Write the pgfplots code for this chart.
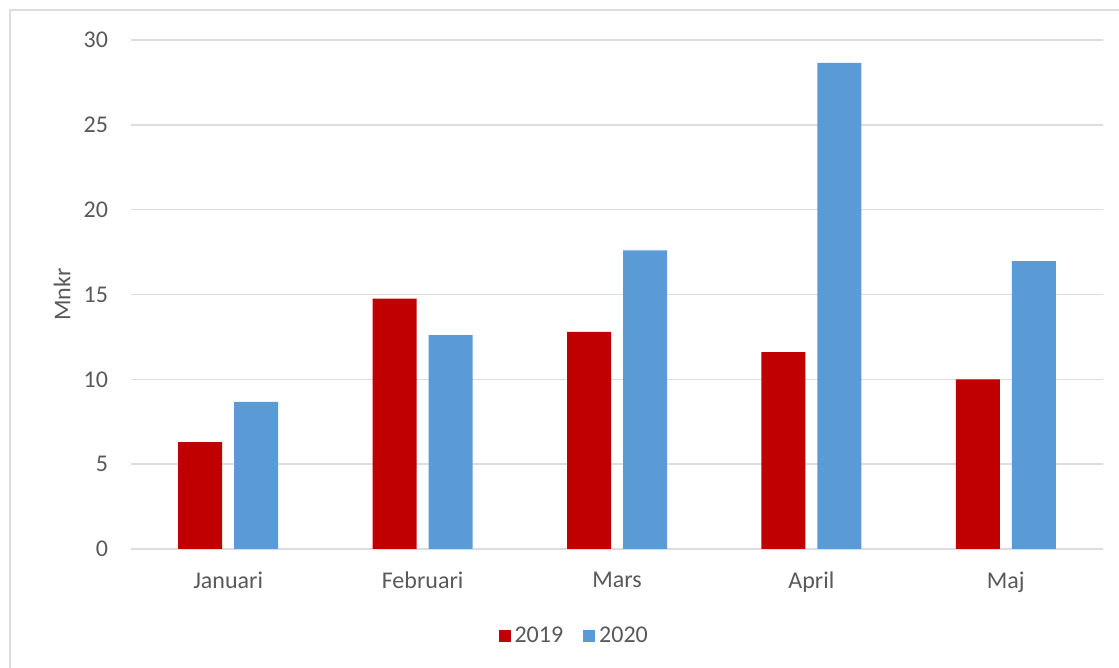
\documentclass[border=0pt]{standalone}
\usepackage{pgfplots}
\pgfplotsset{compat=1.18}
\usepackage{fontspec}
\setmainfont{Carlito}
\definecolor{red19}{HTML}{C00000}
\definecolor{blue20}{HTML}{5B9BD5}
\definecolor{txt}{HTML}{595959}
\definecolor{gridc}{HTML}{DDDDDD}
\begin{document}
\begin{tikzpicture}
\path[use as bounding box] (0,0) rectangle (559.5pt,334pt);
\draw[gridc, line width=0.8pt] (5pt,-5pt) rectangle (570pt,329pt);
\begin{axis}[
  at={(65.5pt,59.5pt)}, anchor=south west,
  scale only axis, width=486pt, height=254.5pt,
  xmin=-0.5, xmax=4.5, ymin=0, ymax=30,
  xtick={0,1,2,3,4},
  xticklabels={Januari,Februari,Mars,April,Maj},
  ytick={0,5,10,15,20,25,30},
  axis line style={draw=none},
  major tick length=0pt,
  ymajorgrids, grid style={gridc, line width=0.8pt},
  tick label style={font=\fontsize{12}{14}\selectfont, text=txt},
  /pgf/number format/assume math mode=true,
  yticklabel style={xshift=-8pt},
  xticklabel style={yshift=-8pt},
  ylabel={Mnkr},
  every axis y label/.style={at={(axis description cs:-0.071,0.5)}, rotate=90, anchor=center, font=\fontsize{12}{14}\selectfont, text=txt},
  legend style={at={(axis description cs:0.457,0)}, anchor=center, yshift=-43.5pt, draw=none, fill=none, legend columns=2, font=\fontsize{12}{14}\selectfont, text=txt, /tikz/every even column/.append style={column sep=8pt}},
  ybar, bar width=22pt,
]
\addplot[fill=red19, draw=none, bar shift=-14pt, legend image code/.code={\fill[red19] (0pt,-3pt) rectangle (6pt,3pt);}] coordinates {(0,6.3) (1,14.75) (2,12.8) (3,11.6) (4,10.0)};
\addplot[fill=blue20, draw=none, bar shift=14pt, legend image code/.code={\fill[blue20] (0pt,-3pt) rectangle (6pt,3pt);}] coordinates {(0,8.67) (1,12.6) (2,17.6) (3,28.65) (4,16.96)};
\legend{2019,2020}
\end{axis}
\end{tikzpicture}
\end{document}
